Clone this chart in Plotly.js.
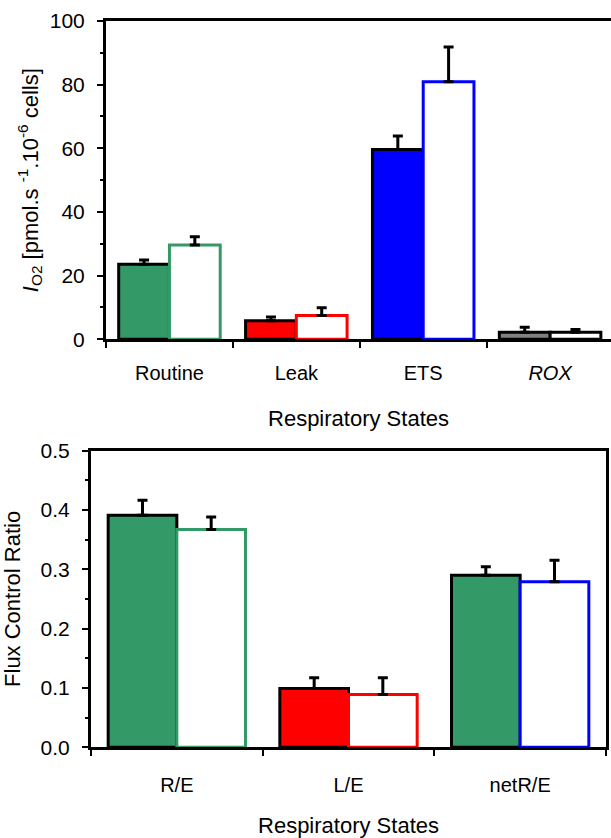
<!DOCTYPE html>
<html>
<head>
<meta charset="utf-8">
<script src="https://cdn.plot.ly/plotly-3.0.1.min.js"></script>
<style>html,body{margin:0;padding:0;background:#fff}#chart{width:611px;height:838px}</style>
</head>
<body>
<div id="chart"></div>
<script>
// ---- Top panel: respiratory states (I_O2) ----
const states = ["Routine", "Leak", "ETS", "ROX"];
const stateLabels = ["Routine", "Leak", "ETS", "<i>ROX</i>"];
const filledTop = [23.6, 5.8, 59.6, 2.2];
const filledTopErr = [1.3, 1.2, 4.3, 1.6];
const openTop = [29.6, 7.5, 80.9, 2.2];
const openTopErr = [2.6, 2.4, 10.9, 0.9];

// ---- Bottom panel: flux control ratios ----
const ratios = ["R/E", "L/E", "netR/E"];
const filledRatio = [0.391, 0.099, 0.290];
const filledRatioErr = [0.025, 0.018, 0.014];
const openRatio = [0.367, 0.089, 0.279];
const openRatioErr = [0.021, 0.028, 0.036];

const GREEN = "#339966", RED = "#ff0000", BLUE = "#0000ff", GREY = "#808080";
const FONT = "Arial, 'Liberation Sans', sans-serif";

function errBar(arr) {
  return {type: "data", symmetric: false, array: arr, arrayminus: arr.map(() => 0),
          color: "black", thickness: 3, width: 5, visible: true};
}

const traces = [
  {type: "bar", x: states, y: filledTop, xaxis: "x", yaxis: "y",
   marker: {color: [GREEN, RED, BLUE, GREY], line: {color: "black", width: 3}},
   error_y: errBar(filledTopErr), hoverinfo: "x+y"},
  {type: "bar", x: states, y: openTop, xaxis: "x", yaxis: "y",
   marker: {color: "white", line: {color: [GREEN, RED, BLUE, "black"], width: 3}},
   error_y: errBar(openTopErr), hoverinfo: "x+y"},
  {type: "bar", x: ratios, y: filledRatio, xaxis: "x2", yaxis: "y2",
   marker: {color: [GREEN, RED, GREEN], line: {color: "black", width: 3}},
   error_y: errBar(filledRatioErr), hoverinfo: "x+y"},
  {type: "bar", x: ratios, y: openRatio, xaxis: "x2", yaxis: "y2",
   marker: {color: "white", line: {color: [GREEN, RED, BLUE], width: 3}},
   error_y: errBar(openRatioErr), hoverinfo: "x+y"}
];

const xTickFont = {family: FONT, size: 20, color: "black"};
const yTickFont = {family: FONT, size: 21, color: "black"};
const titleFont = {family: FONT, size: 22, color: "black"};

const xBase = {type: "category", showline: true, linecolor: "black", linewidth: 3, mirror: true,
  ticks: "outside", tickson: "boundaries", ticklen: 6, tickwidth: 2, tickcolor: "black",
  showgrid: false, zeroline: false, tickfont: xTickFont, fixedrange: true};
const yBase = {showline: true, linecolor: "black", linewidth: 3,
  ticks: "outside", ticklen: 6, tickwidth: 2, tickcolor: "black",
  showgrid: false, zeroline: false, tickfont: yTickFont, fixedrange: true};

const layout = {
  width: 611, height: 838,
  margin: {l: 0, r: 0, t: 0, b: 0},
  paper_bgcolor: "white", plot_bgcolor: "white",
  showlegend: false, barmode: "group", bargap: 0.2, bargroupgap: 0,
  font: {family: FONT, color: "black"},
  xaxis: Object.assign({}, xBase, {
    domain: [106/611, 1], anchor: "y", range: [-0.5, 3.48],
    tickmode: "array", tickvals: states, ticktext: stateLabels,
    ticklabelstandoff: 14,
    title: {text: "Respiratory States", font: titleFont, standoff: 28}
  }),
  yaxis: Object.assign({}, yBase, {
    domain: [1 - 339.3/838, 1 - 21/838], anchor: "x", range: [0, 100], dtick: 20,
    mirror: false,
    minor: {dtick: 10, ticks: "outside", ticklen: 3, tickwidth: 2, tickcolor: "black"},
    ticklabelstandoff: 8,
    title: {text: "<i>I</i><sub>O2</sub> [pmol.s <sup>-1</sup>.10<sup>-6</sup> cells]", font: titleFont, standoff: 6}
  }),
  xaxis2: Object.assign({}, xBase, {
    domain: [91/611, 606/611], anchor: "y2",
    ticklabelstandoff: 18,
    title: {text: "Respiratory States", font: titleFont, standoff: 28}
  }),
  yaxis2: Object.assign({}, yBase, {
    domain: [1 - 747.3/838, 1 - 450.5/838], anchor: "x2", range: [0, 0.5], dtick: 0.1,
    tickformat: ".1f", mirror: true,
    minor: {dtick: 0.05, ticks: "outside", ticklen: 3, tickwidth: 2, tickcolor: "black"},
    ticklabelstandoff: 8,
    title: {text: "Flux Control Ratio", font: titleFont, standoff: 14}
  })
};

Plotly.newPlot("chart", traces, layout, {displayModeBar: false, staticPlot: true});
</script>
</body>
</html>
